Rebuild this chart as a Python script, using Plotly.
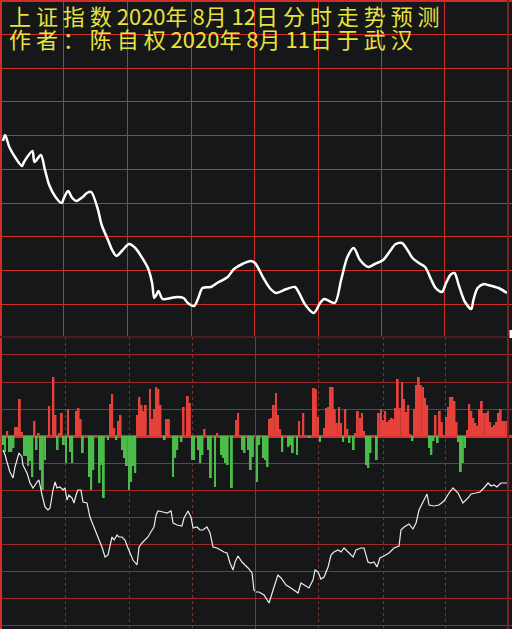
import plotly.graph_objects as go

# ---------------- data ----------------
# upper panel: forecast curve (minute of session, relative level)
minutes_top = [0, 1, 3, 6, 9, 10, 14, 15, 18, 20, 22, 25, 28, 29, 31, 33, 35, 38, 40, 42,
               45, 47, 50, 52, 54, 57, 60, 63, 66, 69, 71, 72, 73, 74, 76, 80, 83, 86, 88, 91,
               93, 95, 99, 102, 107, 110, 114, 118, 120, 124, 127, 130, 135, 139, 141, 144, 148, 151, 153, 158,
               161, 164, 167, 170, 174, 177, 181, 184, 187, 190, 192, 195, 198, 201, 204, 206, 209, 211, 213, 215,
               217, 220, 223, 224, 226, 229, 231, 236, 240]
forecast_top = [199, 205, 193, 182, 174, 178, 189, 178, 185, 170, 155, 143, 137, 142, 149, 142, 139, 143, 147, 148,
                132, 115, 100, 90, 84, 90, 96, 92, 83, 72, 57, 42, 45, 49, 41, 42, 43, 42, 37, 34,
                42, 52, 53, 57, 63, 71, 76, 79, 77, 62, 52, 47, 51, 53, 47, 35, 27, 37, 41, 37,
                60, 83, 92, 80, 73, 76, 80, 88, 96, 97, 92, 82, 77, 73, 60, 52, 48, 57, 65, 67,
                55, 38, 31, 40, 52, 56, 55, 52, 47]

# lower panel: per-minute money flow bars (positive red, negative green)
flow = [-9, -16, 5, -16, -16, -12, 9, 9, 37, 4,
        -20, -20, -30, -25, -41, 15, -14, 3, -34, -54,
        -24, 0, 30, 0, 59, 21, -14, 3, 23, -9,
        -27, 27, -16, -27, 0, 25, 28, 17, -17, 0,
        0, -41, -54, -34, 0, 0, -47, -29, -62, 0,
        -4, 32, 42, 8, -4, 15, 21, -14, -22, -30,
        -54, -46, -30, -37, 21, 39, 31, 25, 31, 0,
        47, 17, 27, 49, 47, 31, 0, -4, 17, 17,
        0, -41, -22, -14, 0, -6, 29, 0, 40, 33,
        -24, -24, 0, -14, -27, -19, 7, 0, -14, -42,
        0, -51, 3, 0, -19, -22, -27, -29, 0, -52,
        0, 16, 23, 0, -14, -17, 0, -14, -34, -21,
        0, -46, -9, 0, -22, -24, -31, 17, 18, 31,
        43, 21, 7, -16, 0, 0, -11, -9, -17, 0,
        -19, 15, 0, 23, 0, 0, -2, 0, 48, 47,
        19, -6, 0, 8, 28, 29, 49, 49, 27, 13,
        29, 13, -6, 27, 7, -7, 0, -14, 3, 25,
        18, 23, 5, -29, -32, -17, 0, 0, -24, 23,
        27, 16, 25, 14, 16, 18, 17, 28, 57, 28,
        54, 37, 24, 31, 2, -5, 27, 51, 59, 51,
        49, 38, 31, -12, -19, -5, 21, -7, 25, 14,
        0, 19, 29, 39, 39, 35, 14, -6, -36, -27,
        -12, 6, 32, 25, 18, 13, 10, 27, 35, 23,
        23, 25, 14, 9, 11, 14, 23, 27, 15, 15,
        15]
flow_minutes = list(range(len(flow)))

# lower panel: actual minute line (relative level)
minutes_line = [0.0, 1.0, 1.9, 3.3, 4.8, 5.7, 7.6, 9.0, 9.5, 11.4,
                12.9, 14.3, 16.2, 17.1, 18.6, 20.0, 21.4, 22.4, 23.8, 24.8,
                25.7, 27.1, 28.6, 29.5, 30.5, 31.4, 32.9, 33.8, 34.8, 35.7,
                37.1, 38.1, 40.0, 41.4, 43.3, 45.2, 47.1, 48.6, 50.0, 51.9,
                52.9, 54.3, 55.2, 56.7, 58.1, 59.5, 61.9, 63.8, 64.8, 66.2,
                67.6, 69.0, 71.0, 71.9, 72.9, 73.8, 76.2, 78.1, 80.0, 81.0,
                82.9, 85.2, 86.2, 88.1, 89.5, 90.5, 92.4, 93.8, 95.2, 97.1,
                98.6, 100.0, 101.9, 103.3, 105.2, 106.7, 108.1, 109.5, 110.5, 111.9,
                113.8, 115.2, 116.7, 118.6, 119.5, 120.5, 121.9, 124.3, 126.7, 128.6,
                130.9, 132.4, 134.8, 137.1, 140.5, 141.9, 143.3, 145.7, 147.6, 148.6,
                150.0, 151.4, 152.9, 154.8, 156.2, 157.6, 159.5, 161.0, 162.4, 164.3,
                166.7, 168.1, 170.5, 171.9, 173.8, 175.2, 176.7, 178.1, 179.5, 181.4,
                183.8, 186.2, 188.6, 189.5, 191.0, 193.3, 195.2, 196.7, 198.1, 200.0,
                201.9, 202.9, 205.2, 207.6, 210.0, 212.4, 214.3, 216.7, 219.0, 221.4,
                222.9, 225.2, 227.1, 229.0, 231.0, 232.4, 233.8, 235.2, 237.1, 240.0]
actual_line = [179, 174, 167, 157, 151, 162, 176, 172, 164, 156,
               146, 141, 147, 149, 134, 122, 119, 121, 139, 147,
               141, 142, 139, 141, 129, 134, 131, 126, 134, 139,
               139, 127, 126, 112, 102, 92, 82, 72, 74, 92,
               89, 94, 92, 92, 89, 81, 69, 64, 82, 86,
               89, 92, 99, 102, 114, 118, 117, 116, 118, 106,
               104, 103, 111, 118, 112, 101, 102, 99, 99, 102,
               96, 82, 81, 79, 77, 76, 66, 59, 67, 73,
               67, 64, 61, 56, 39, 37, 37, 34, 26, 39,
               54, 51, 44, 41, 36, 46, 44, 41, 49, 59,
               57, 50, 52, 62, 74, 77, 79, 77, 81, 77,
               72, 79, 81, 81, 67, 66, 67, 62, 71, 73,
               76, 81, 83, 99, 102, 105, 100, 106, 119, 127,
               135, 124, 123, 124, 128, 136, 141, 136, 126, 131,
               135, 136, 137, 141, 146, 143, 144, 142, 146, 146]

title_line1 = "上证指数2020年8月12日分时走势预测"
title_line2 = "作者：陈自权2020年8月11日于武汉"

# grid positions (axis units)
top_x_grid = [28.81, 59.29, 89.76, 119.76, 150.24, 180.24, 210.24]
top_y_grid = [305.5, 271.5, 238.5, 204.5, 170.5, 136.5, 103.5, 69.5, 35.5]
bot_x_grid = [29.76, 60.24, 90.24, 150.24, 181.19, 210.71]
bot_y_grid = [81.5, 53.5, 26.5, -27.5, -54.5, -81.5, -108.5, -135.5, -162.5, -189.5]
bot_mid = 120.24

# ---------------- style ----------------
BG = "#151719"
RED = "#d02c2c"
RED2 = "#a02828"
DOT = "#922a2a"
ZERO = "#d83232"
BAR_UP = "#e5403a"
BAR_DN = "#4cbb4a"
YELLOW = "#e8e23c"

W, H = 512, 629
split_px = 337
top_dom = [(H - split_px) / H, 1]
bot_dom = [0, (H - split_px) / H]
x_range = [-3 / 2.1, (W - 3) / 2.1]


def spaced(s):
    out = ""
    for i, c in enumerate(s):
        out += c
        if ord(c) > 127 and i < len(s) - 1:
            out += " "
    return out


fig = go.Figure()
fig.add_trace(go.Scatter(
    x=minutes_top, y=forecast_top, mode="lines",
    line=dict(color="white", width=2.5, shape="spline", smoothing=0.8),
    xaxis="x", yaxis="y", hoverinfo="skip"))
fig.add_trace(go.Bar(
    x=flow_minutes, y=flow, width=0.9,
    marker=dict(color=[BAR_UP if v > 0 else BAR_DN for v in flow], line=dict(width=0)),
    xaxis="x2", yaxis="y2", hoverinfo="skip"))
fig.add_trace(go.Scatter(
    x=minutes_line, y=actual_line, mode="lines",
    line=dict(color="#ececec", width=1.2),
    xaxis="x2", yaxis="y3", hoverinfo="skip"))

axis_common = dict(showticklabels=False, ticks="", showline=False)

fig.update_layout(
    template="none",
    width=W, height=H,
    margin=dict(l=0, r=0, t=0, b=0),
    paper_bgcolor=BG, plot_bgcolor=BG,
    showlegend=False,
    xaxis=dict(domain=[0, 1], anchor="y", range=x_range, tickmode="array",
               tickvals=top_x_grid, showgrid=True, gridcolor=RED, gridwidth=1,
               zeroline=False, **axis_common),
    yaxis=dict(domain=top_dom, anchor="x", range=[3, 340], tickmode="array",
               tickvals=top_y_grid, showgrid=True, gridcolor=RED, gridwidth=1,
               zeroline=False, **axis_common),
    xaxis2=dict(domain=[0, 1], anchor="y2", range=x_range, tickmode="array",
                tickvals=bot_x_grid, showgrid=True, gridcolor=DOT, griddash="dot",
                gridwidth=1, zeroline=False, **axis_common),
    yaxis2=dict(domain=bot_dom, anchor="x2", range=[-193, 99], tickmode="array",
                tickvals=bot_y_grid, showgrid=True, gridcolor=RED2, gridwidth=1,
                zeroline=True, zerolinecolor=ZERO, zerolinewidth=3, **axis_common),
    yaxis3=dict(domain=bot_dom, anchor="x2", overlaying="y2", range=[0, 292],
                showgrid=False, zeroline=False, **axis_common),
    shapes=[
        dict(type="line", xref="paper", yref="paper", x0=1 / W, x1=1 / W, y0=0, y1=1,
             line=dict(color=RED, width=2)),
        dict(type="line", xref="paper", yref="paper", x0=0, x1=1, y0=1 - 1 / H, y1=1 - 1 / H,
             line=dict(color=RED, width=2)),
        dict(type="line", xref="paper", yref="paper", x0=508 / W, x1=508 / W, y0=0, y1=1,
             line=dict(color="#7a2222", width=2)),
        dict(type="line", xref="paper", yref="paper", x0=0, x1=1, y0=bot_dom[1], y1=bot_dom[1],
             line=dict(color="#4a1e1e", width=2)),
        dict(type="line", xref="x2", yref="paper", x0=bot_mid, x1=bot_mid, y0=0, y1=bot_dom[1],
             line=dict(color=RED2, width=1)),
        dict(type="rect", xref="paper", yref="paper", x0=509.5 / W, x1=1,
             y0=(H - 338) / H, y1=(H - 330) / H, fillcolor="white", line=dict(width=0)),
    ],
    annotations=[
        dict(text=spaced(title_line1), xref="paper", yref="paper", x=7 / W, y=1 - 15 / H,
             xanchor="left", yanchor="middle", showarrow=False,
             font=dict(family="Noto Sans CJK SC", size=22, color=YELLOW)),
        dict(text=spaced(title_line2), xref="paper", yref="paper", x=7 / W, y=1 - 38 / H,
             xanchor="left", yanchor="middle", showarrow=False,
             font=dict(family="Noto Sans CJK SC", size=22, color=YELLOW)),
    ],
)

fig.write_html(
    "out.html",
    config={"displayModeBar": False},
    post_script="document.body.style.margin='0';document.body.style.overflow='hidden';",
)
